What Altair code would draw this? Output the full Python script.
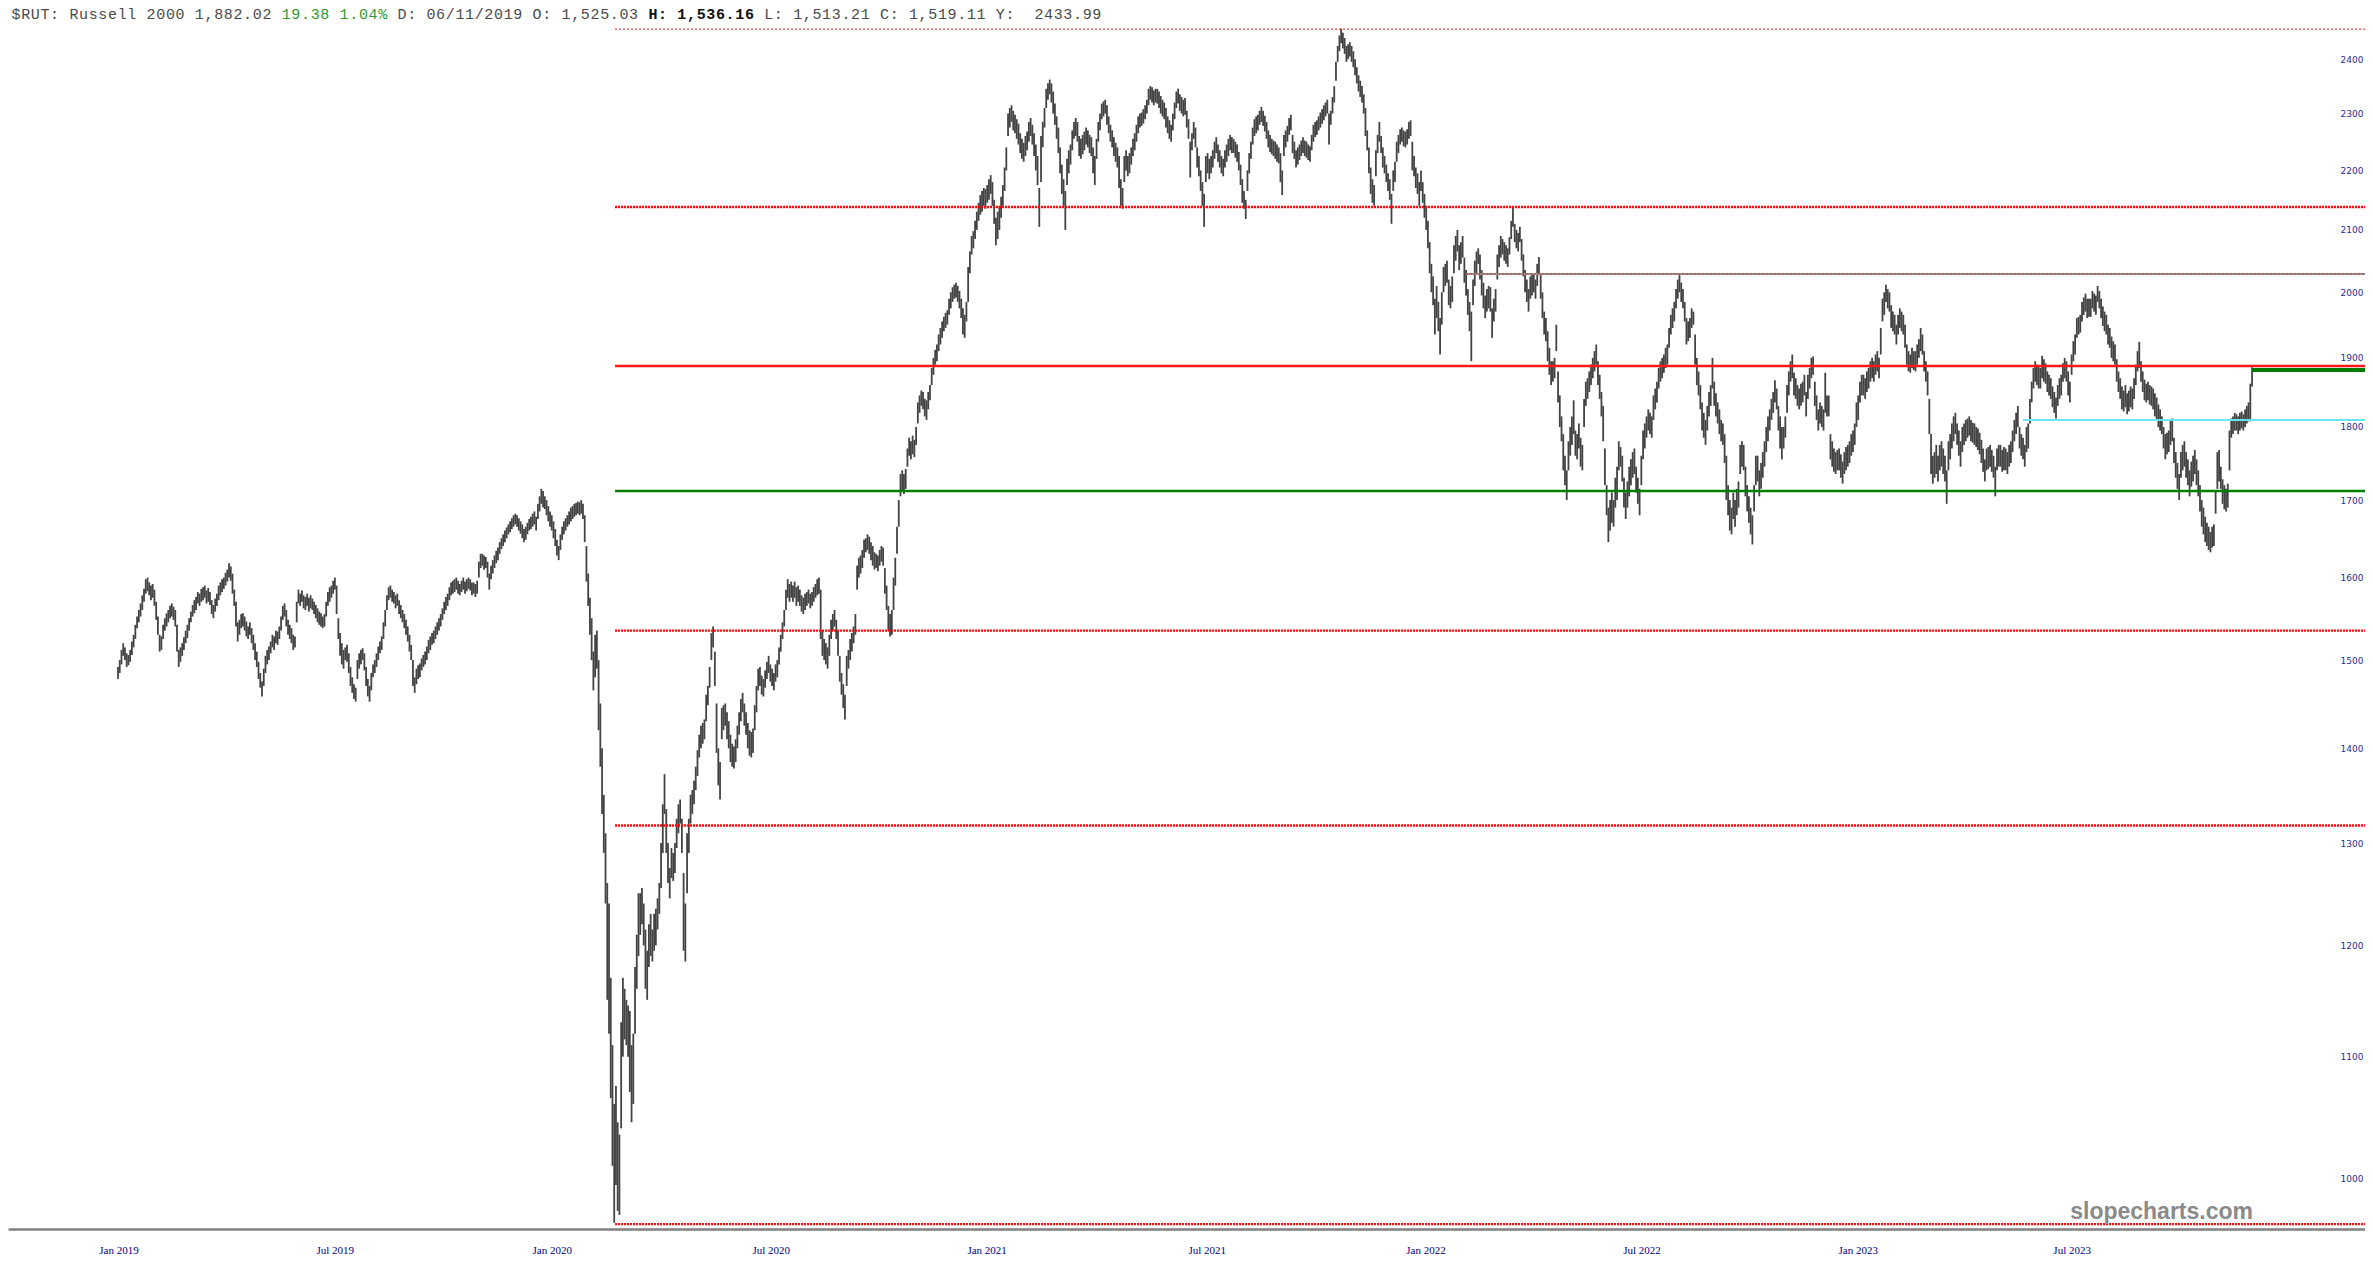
import altair as alt
import pandas as pd

# ---------------- daily bars (low / high) ----------------
lo_2019 = [1478,1485,1495,1505,1500,1492,1494,1498,1506,1515,
1525,1538,1545,1552,1560,1570,1580,1583,1578,1572,
1575,1565,1548,1530,1510,1512,1525,1535,1540,1545,
1550,1552,1548,1540,1510,1492,1498,1505,1512,1520,
1526,1535,1545,1552,1556,1560,1568,1565,1570,1572,
1575,1568,1570,1566,1555,1550,1558,1565,1572,1578,
1582,1586,1590,1595,1600,1596,1580,1565,1540,1522,
1530,1538,1540,1535,1528,1525,1530,1520,1512,1500,
1492,1478,1468,1458,1470,1485,1495,1500,1508,1515,
1512,1520,1518,1525,1535,1548,1552,1540,1530,1525,
1520,1512,1515,1545,1568,1565,1570,1562,1560,1565,
1558,1562,1560,1555,1550,1545,1542,1540,1538,1540,
1552,1565,1570,1575,1580,1585,1555,1525,1505,1495,
1490,1500,1498,1485,1470,1462,1455,1452,1478,1490,
1495,1500,1488,1470,1458,1452,1465,1480,1485,1492,
1500,1508,1512,1525,1540,1560,1572,1575,1570,1568,
1562,1565,1555,1550,1545,1538,1530,1522,1510,1500,
1470,1462,1472,1478,1480,1488,1492,1495,1500,1508,
1512,1518,1520,1525,1530,1535,1540,1548,1555,1560,
1565,1572,1578,1580,1582,1585,1580,1578,1582,1585,
1580,1583,1586,1584,1578,1580,1576,1580,1600,1612,
1615,1610,1612,1600,1585,1598,1605,1612,1618,1622,
1630,1636,1640,1645,1650,1655,1658,1662,1665,1668,
1665,1660,1656,1650,1645,1648,1655,1660,1662]
hi_2019 = [1492,1500,1512,1520,1515,1508,1506,1512,1522,1530,
1542,1552,1560,1568,1578,1586,1598,1600,1594,1590,
1592,1585,1570,1552,1530,1528,1542,1550,1556,1560,
1565,1568,1564,1560,1542,1512,1515,1520,1527,1535,
1542,1550,1558,1566,1572,1576,1582,1580,1586,1588,
1590,1584,1587,1582,1572,1566,1574,1580,1590,1594,
1598,1600,1606,1610,1618,1614,1605,1585,1570,1545,
1548,1555,1556,1552,1546,1540,1545,1538,1530,1520,
1510,1498,1485,1475,1490,1505,1512,1516,1522,1530,
1528,1535,1534,1540,1552,1565,1568,1560,1548,1542,
1538,1530,1528,1570,1585,1580,1584,1578,1576,1580,
1575,1578,1574,1570,1566,1562,1558,1556,1552,1555,
1570,1582,1588,1590,1596,1600,1590,1550,1532,1520,
1512,1515,1518,1508,1492,1480,1472,1468,1500,1508,
1512,1514,1508,1492,1478,1470,1485,1495,1500,1508,
1516,1522,1528,1545,1560,1578,1588,1590,1585,1582,
1578,1580,1572,1566,1560,1555,1548,1540,1530,1518,
1500,1480,1490,1494,1496,1502,1506,1510,1516,1524,
1528,1532,1535,1540,1545,1550,1555,1562,1570,1576,
1580,1588,1594,1596,1598,1600,1596,1592,1596,1600,
1595,1598,1600,1598,1594,1594,1592,1596,1620,1630,
1630,1628,1626,1620,1605,1615,1622,1628,1634,1638,
1645,1650,1655,1660,1664,1668,1672,1676,1680,1682,
1680,1676,1672,1668,1662,1665,1670,1675,1678]

lo_2020 = [1665,1668,1660,1675,1685,1695,1690,1688,1680,1672,
1665,1660,1650,1640,1628,1622,1635,1648,1655,1660,
1665,1668,1672,1675,1678,1680,1682,1680,1682,1675,
1645,1595,1565,1530,1500,1465,1480,1490,1420,1380,
1330,1290,1240,1150,1120,1065,1010,966,995,975,
972,1040,1100,1115,1110,1100,1070,1045,1060,1120,
1160,1190,1210,1220,1200,1160,1150,1180,1190,1185,
1195,1200,1215,1230,1255,1290,1330,1290,1260,1245,
1265,1262,1270,1295,1310,1320,1290,1195,1185,1250,
1290,1320,1330,1340,1355,1370,1390,1400,1405,1410,
1430,1448,1468,1500,1515,1470,1395,1360,1345,1410,
1420,1425,1410,1400,1385,1380,1378,1385,1400,1415,
1430,1440,1425,1415,1400,1392,1390,1395,1420,1440,
1465,1470,1460,1458,1468,1478,1485,1475,1470,1465,
1475,1480,1495,1510,1525,1540,1560,1575,1570,1575,
1570,1575,1565,1570,1565,1558,1555,1560,1565,1568,
1562,1565,1570,1575,1578,1580,1525,1505,1500,1495,
1490,1505,1525,1535,1540,1525,1505,1475,1460,1445,
1432,1470,1490,1500,1510,1520,1530,1585,1600,1605,
1612,1625,1632,1635,1630,1622,1615,1610,1612,1608,
1615,1620,1615,1580,1560,1535,1528,1530,1560,1590,
1630,1665,1705,1712,1708,1715,1745,1760,1755,1762,
1758,1775,1805,1820,1830,1825,1815,1810,1825,1838,
1860,1875,1890,1895,1910,1920,1930,1940,1945,1950,
1965,1975,1985,1990,1992,1985,1975,1960,1935,1930,1955]
hi_2020 = [1682,1685,1678,1695,1705,1715,1712,1705,1700,1692,
1685,1680,1672,1662,1648,1640,1655,1665,1672,1676,
1680,1685,1690,1692,1695,1696,1698,1697,1700,1695,
1680,1640,1605,1575,1550,1510,1530,1535,1500,1450,
1400,1350,1310,1260,1240,1170,1110,1060,1075,1045,
1035,1130,1170,1160,1150,1145,1140,1110,1120,1180,
1210,1250,1250,1255,1240,1215,1195,1220,1230,1215,
1230,1235,1245,1260,1300,1340,1372,1335,1300,1275,
1295,1290,1300,1325,1340,1345,1325,1270,1240,1310,
1325,1350,1355,1365,1380,1398,1415,1425,1428,1432,
1460,1470,1492,1532,1540,1510,1450,1400,1385,1445,
1448,1450,1440,1430,1415,1405,1402,1410,1425,1440,
1455,1462,1450,1440,1428,1420,1418,1422,1448,1470,
1490,1492,1482,1478,1488,1498,1505,1495,1490,1485,
1495,1500,1515,1530,1545,1560,1585,1598,1592,1595,
1590,1595,1588,1590,1585,1578,1575,1580,1582,1585,
1580,1582,1588,1592,1598,1600,1585,1535,1525,1520,
1515,1530,1548,1555,1560,1548,1535,1505,1485,1472,
1460,1505,1512,1525,1532,1540,1555,1615,1625,1628,
1635,1648,1650,1655,1652,1645,1640,1632,1630,1628,
1635,1640,1638,1612,1590,1565,1555,1560,1600,1625,
1665,1700,1735,1740,1735,1742,1770,1785,1780,1788,
1782,1800,1835,1845,1852,1850,1840,1838,1850,1860,
1885,1900,1912,1920,1935,1945,1955,1962,1968,1972,
1990,2000,2008,2012,2015,2010,2002,1990,1975,1965,1985]

lo_2021 = [1985,2030,2060,2070,2085,2100,2115,2125,2130,2140,
2135,2145,2150,2160,2140,2110,2075,2085,2100,2120,
2140,2165,2200,2260,2275,2285,2270,2265,2255,2245,
2230,2220,2215,2225,2235,2250,2260,2245,2225,2200,
2175,2105,2180,2240,2275,2310,2325,2335,2320,2300,
2280,2255,2230,2195,2160,2140,2100,2175,2195,2210,
2235,2255,2260,2250,2225,2220,2228,2235,2245,2240,
2230,2225,2195,2175,2220,2250,2270,2290,2295,2300,
2280,2265,2250,2240,2225,2215,2205,2170,2140,2135,
2180,2200,2190,2195,2210,2225,2235,2250,2265,2275,
2278,2282,2290,2300,2315,2325,2320,2315,2320,2318,
2310,2300,2295,2290,2275,2265,2255,2250,2270,2290,
2310,2318,2305,2300,2295,2298,2275,2255,2188,2235,
2255,2240,2205,2190,2165,2140,2105,2180,2195,2185,
2195,2205,2220,2230,2215,2205,2195,2190,2205,2215,
2225,2235,2230,2230,2222,2215,2200,2175,2145,2135,
2118,2165,2195,2220,2245,2260,2265,2270,2280,2285,
2278,2268,2255,2240,2232,2228,2225,2220,2215,2212,
2180,2158,2225,2240,2250,2262,2270,2230,2220,2205,
2210,2218,2225,2230,2225,2222,2218,2215,2235,2250,
2258,2262,2270,2275,2282,2288,2295,2300,2245,2280,
2300,2320,2360,2395,2415,2430,2420,2410,2395,2400,
2405,2395,2385,2370,2355,2340,2330,2320,2300,2260,
2235,2195,2160,2145,2140,2190,2230,2250,2230,2205,
2195,2180,2165,2150,2110,2165,2180,2215,2230,2245,
2250,2242,2240]
hi_2021 = [2040,2065,2090,2098,2115,2130,2145,2158,2165,2170,
2168,2175,2185,2192,2180,2150,2120,2130,2140,2155,
2175,2205,2240,2300,2310,2315,2305,2298,2290,2282,
2265,2255,2248,2260,2268,2285,2292,2280,2265,2245,
2225,2170,2260,2285,2310,2345,2355,2362,2355,2340,
2318,2295,2275,2240,2210,2185,2165,2220,2235,2245,
2270,2285,2292,2285,2260,2255,2262,2268,2275,2270,
2262,2258,2240,2225,2255,2285,2300,2318,2322,2325,
2315,2295,2280,2270,2258,2248,2240,2225,2185,2170,
2225,2235,2225,2230,2240,2255,2265,2280,2295,2300,
2302,2308,2315,2325,2345,2350,2348,2342,2345,2345,
2340,2332,2325,2320,2310,2295,2288,2280,2300,2320,
2340,2345,2335,2330,2325,2328,2305,2290,2250,2265,
2285,2275,2240,2225,2200,2180,2160,2225,2230,2220,
2225,2235,2250,2258,2245,2235,2225,2220,2235,2245,
2255,2262,2258,2255,2250,2245,2232,2210,2185,2165,
2150,2200,2230,2250,2275,2290,2295,2298,2305,2312,
2305,2296,2285,2270,2262,2255,2252,2250,2245,2240,
2230,2200,2262,2270,2278,2292,2298,2262,2250,2235,
2240,2245,2252,2258,2252,2250,2245,2242,2262,2280,
2285,2288,2295,2302,2308,2315,2320,2325,2300,2305,
2330,2350,2395,2425,2445,2458,2450,2440,2425,2428,
2432,2425,2415,2400,2385,2370,2360,2350,2335,2310,
2270,2240,2205,2185,2175,2235,2262,2285,2260,2240,
2225,2210,2195,2185,2160,2200,2215,2250,2262,2272,
2275,2270,2268]

lo_2022 = [2245,2255,2260,2200,2190,2170,2160,2140,2165,2145,
2120,2100,2070,2030,2000,1980,1935,1960,1940,1905,
1950,2000,2010,2015,1980,1975,1985,2030,2050,2065,
2035,2045,2055,2015,1995,1965,1940,1895,1980,2010,
2030,2045,2020,1995,1975,1960,1970,1975,1970,1930,
1955,1970,2020,2040,2055,2060,2050,2045,2040,2060,
2085,2105,2080,2070,2065,2080,2050,2025,2000,1985,
1970,1990,1995,2000,1990,2010,2030,1990,1960,1935,
1925,1895,1875,1860,1865,1870,1910,1835,1800,1780,
1740,1720,1700,1740,1760,1775,1790,1760,1755,1770,
1745,1740,1800,1830,1840,1850,1860,1870,1880,1890,
1860,1840,1815,1780,1720,1680,1645,1660,1670,1665,
1690,1700,1740,1745,1725,1690,1675,1690,1705,1720,
1730,1735,1710,1695,1680,1720,1755,1770,1785,1795,
1790,1785,1810,1825,1835,1855,1865,1870,1878,1885,
1890,1915,1935,1945,1955,1975,1990,2000,1985,1975,
1955,1920,1925,1930,1945,1950,1890,1860,1845,1825,
1795,1785,1775,1795,1815,1830,1855,1830,1815,1805,
1790,1780,1775,1750,1700,1680,1660,1655,1675,1665,
1680,1690,1735,1745,1740,1705,1685,1670,1655,1642,
1685,1720,1725,1705,1715,1730,1745,1765,1780,1795,
1810,1820,1835,1825,1795,1770,1755,1770,1785,1820,
1845,1865,1870,1845,1840,1830,1825,1830,1835,1845,
1815,1840,1855,1870,1875,1830,1810,1795,1805,1800,
1795,1820,1815,1815,1755,1745,1738,1735,1740]
hi_2022 = [2272,2285,2288,2250,2225,2205,2195,2180,2200,2180,
2160,2140,2115,2080,2045,2025,1990,2010,1985,1960,
2000,2040,2045,2050,2020,2010,2025,2075,2090,2100,
2075,2080,2090,2055,2035,2005,1985,1970,2020,2050,
2065,2070,2060,2035,2015,1995,2005,2010,2008,1975,
1990,2005,2060,2075,2090,2085,2080,2075,2070,2088,
2115,2137,2110,2100,2095,2105,2085,2060,2035,2020,
2005,2025,2030,2030,2020,2045,2056,2030,2000,1970,
1960,1940,1915,1895,1895,1900,1950,1880,1845,1815,
1790,1760,1740,1780,1800,1815,1838,1795,1790,1805,
1785,1775,1840,1865,1870,1880,1890,1900,1910,1920,
1895,1875,1850,1830,1770,1720,1690,1700,1710,1700,
1730,1745,1780,1772,1760,1730,1710,1725,1745,1755,
1765,1770,1745,1730,1715,1760,1795,1805,1815,1825,
1820,1815,1845,1855,1865,1885,1895,1900,1905,1915,
1920,1945,1965,1975,1985,2005,2020,2030,2015,2005,
1985,1960,1955,1960,1975,1970,1935,1900,1880,1860,
1835,1820,1810,1830,1850,1860,1900,1865,1848,1835,
1825,1810,1805,1790,1760,1720,1700,1690,1710,1700,
1715,1725,1775,1780,1775,1745,1720,1705,1690,1680,
1720,1760,1760,1740,1750,1765,1780,1800,1815,1825,
1840,1850,1867,1855,1830,1815,1800,1800,1815,1860,
1880,1895,1905,1878,1870,1860,1855,1862,1865,1875,
1850,1875,1885,1900,1902,1865,1845,1825,1835,1830,
1825,1878,1845,1845,1790,1780,1770,1765,1768]

lo_2023 = [1740,1730,1722,1735,1740,1745,1750,1760,1765,1775,
1800,1810,1835,1845,1845,1840,1850,1855,1865,1870,
1865,1875,1880,1870,1905,1955,1965,1985,1975,1970,
1945,1940,1935,1920,1935,1945,1940,1935,1915,1890,
1880,1878,1885,1882,1880,1890,1900,1910,1905,1880,
1865,1845,1790,1735,1722,1730,1735,1725,1740,1745,
1735,1725,1695,1740,1755,1770,1780,1790,1775,1760,
1745,1765,1775,1780,1785,1788,1780,1778,1775,1772,
1768,1762,1750,1738,1725,1740,1742,1745,1738,1730,
1705,1740,1745,1745,1738,1740,1740,1735,1745,1750,
1765,1780,1790,1800,1770,1760,1755,1745,1765,1770,
1805,1835,1855,1865,1860,1855,1855,1870,1865,1862,
1850,1845,1840,1828,1820,1812,1830,1840,1845,1865,
1870,1865,1845,1835,1875,1895,1905,1930,1935,1938,
1955,1965,1970,1960,1962,1962,1975,1970,1965,1985,
1975,1960,1948,1940,1935,1920,1915,1900,1895,1890,
1865,1850,1840,1825,1822,1828,1818,1822,1828,1825,
1840,1860,1880,1885,1865,1850,1838,1835,1838,1832,
1830,1825,1815,1810,1800,1795,1790,1770,1755,1762,
1765,1775,1780,1750,1730,1715,1700,1730,1740,1745,
1730,1720,1705,1718,1725,1735,1720,1705,1685,1665,
1655,1645,1640,1635,1632,1638,1640,1682,1715,1725,
1715,1695,1688,1685,1690,1740,1785,1790,1795,1795,
1790,1795,1798,1795,1800,1805,1808,1808,1858]
hi_2023 = [1770,1762,1752,1765,1772,1775,1780,1790,1795,1805,
1835,1845,1865,1875,1875,1870,1880,1885,1895,1900,
1895,1905,1910,1900,1945,1990,2000,2012,2005,2000,
1980,1970,1965,1950,1965,1975,1970,1965,1950,1920,
1910,1905,1915,1910,1910,1920,1928,1945,1935,1910,
1895,1880,1840,1790,1760,1765,1775,1760,1775,1780,
1770,1760,1740,1780,1790,1805,1815,1820,1805,1795,
1780,1800,1805,1810,1812,1815,1810,1806,1805,1800,
1798,1792,1782,1770,1755,1770,1772,1775,1768,1760,
1745,1770,1775,1775,1768,1772,1770,1765,1775,1780,
1795,1810,1820,1830,1800,1790,1785,1775,1800,1805,
1840,1865,1885,1895,1890,1888,1885,1903,1898,1892,
1880,1875,1870,1858,1850,1842,1860,1870,1875,1892,
1900,1895,1880,1865,1905,1925,1935,1960,1962,1965,
1985,1992,1998,1990,1990,1990,2002,1998,1995,2010,
2002,1990,1978,1970,1965,1950,1945,1932,1925,1920,
1898,1880,1870,1858,1852,1860,1848,1852,1858,1855,
1870,1890,1910,1924,1895,1880,1868,1862,1865,1860,
1858,1855,1848,1842,1832,1825,1815,1800,1790,1792,
1795,1810,1812,1785,1765,1750,1735,1765,1775,1780,
1765,1755,1740,1752,1760,1768,1755,1740,1720,1700,
1690,1678,1670,1665,1658,1665,1668,1712,1765,1768,
1745,1728,1720,1715,1722,1795,1812,1815,1820,1818,
1815,1820,1822,1818,1825,1830,1835,1862,1886]

# ---------------- axis tick labels ----------------
x_tick_idx = [-11.1, 114.1, 238.6, 365.4, 489.3, 616.7, 742.2, 867.3, 991.4, 1115.2]
x_tick_lab = ["Jan 2019", "Jul 2019", "Jan 2020", "Jul 2020", "Jan 2021",
              "Jul 2021", "Jan 2022", "Jul 2022", "Jan 2023", "Jul 2023"]
y_ticks = [1000, 1100, 1200, 1300, 1400, 1500, 1600, 1700, 1800, 1900,
           2000, 2100, 2200, 2300, 2400]

# ---------------- horizontal levels ----------------
red_dot_thin = [2457]
red_dot_thick = [2138, 1535, 1318, 965]
gray_level = [2029]
red_solid = [1888]
green_solid = [1712]
cyan_level = [1810]
last_price = [1882.02]
start_low = 286.5      # bar of the March 2020 low
start_gray = 777
start_cyan = 1098
start_last = 1230

header = "$RUT: Russell 2000 1,882.02 19.38 1.04% D: 06/11/2019 O: 1,525.03 H: 1,536.16 L: 1,513.21 C: 1,519.11 Y:  2433.99"
green_part = "19.38 1.04%"
bold_part = "H: 1,536.16"

# ---------------- build tables ----------------
lo = lo_2019 + lo_2020 + lo_2021 + lo_2022 + lo_2023
hi = hi_2019 + hi_2020 + hi_2021 + hi_2022 + hi_2023
n = min(len(lo), len(hi))
bars = pd.DataFrame({"idx": list(range(n)), "lo": lo[:n], "hi": hi[:n]})

W, H = 2357, 1221
XDOM = [-63.4, 1295.1]
YDOM = [961.3, 2498.0]
xs = alt.Scale(domain=XDOM, nice=False, zero=False)
ys = alt.Scale(type="log", domain=YDOM, nice=False)

label_expr = ("[" + ",".join("'" + s + "'" for s in x_tick_lab) + "][indexof(["
              + ",".join(str(v) for v in x_tick_idx) + "], datum.value)]")

bar_layer = alt.Chart(bars).mark_rule(color="#434343", strokeWidth=1.8).encode(
    x=alt.X("idx:Q", scale=xs, title=None,
            axis=alt.Axis(values=x_tick_idx, labelExpr=label_expr, labelAlign="left",
                          labelFont="Liberation Serif", labelFontSize=11,
                          labelColor="#00008b", labelPadding=15, ticks=False,
                          tickSize=0, grid=False, domainColor="#808080",
                          domainWidth=2.5, labelOverlap=False, labelFlush=False,
                          labelBound=False, title=None)),
    y=alt.Y("lo:Q", scale=ys, title=None,
            axis=alt.Axis(values=y_ticks, orient="right", format="d",
                          labelAlign="right", labelBaseline="middle",
                          labelPadding=-2, ticks=False, tickSize=0, domain=False,
                          grid=False, labelFont="DejaVu Sans", labelFontSize=9,
                          labelColor="#2b2b95", labelOverlap=False, labelFlush=False,
                          title=None)),
    y2="hi:Q",
)


def level(prices, start, color, width, dash=None):
    df = pd.DataFrame({"price": prices, "start": [start] * len(prices)})
    kw = dict(color=color, strokeWidth=width)
    if dash:
        kw["strokeDash"] = dash
    return alt.Chart(df).mark_rule(**kw).encode(
        x=alt.X("start:Q", scale=xs, title=None),
        x2=alt.value(W),
        y=alt.Y("price:Q", scale=ys, title=None),
    )


levels = [
    level(gray_level, start_gray, "#8f8f8f", 2),
    level(gray_level, start_gray, "#e03030", 1, [2, 2]),
    level(red_dot_thin, start_low, "#ff0000", 1, [2, 2]),
    level(red_dot_thick, start_low, "#ff0000", 2.4, [2, 1]),
    level(red_solid, start_low, "#ff1a1a", 2.5),
    level(green_solid, start_low, "#008000", 2.5),
    level(cyan_level, start_cyan, "#66e6ee", 2),
    level(last_price, start_last, "#007a00", 4),
]

# header: one character per column, as in a monospaced ticker line
g0 = header.index(green_part); g1 = g0 + len(green_part)
b0 = header.index(bold_part); b1 = b0 + len(bold_part)
rows = []
for k, ch in enumerate(header):
    if ch == " ":
        continue
    kind = "green" if g0 <= k < g1 else ("bold" if b0 <= k < b1 else "plain")
    rows.append({"ch": ch, "px": 3.5 + k * 9.65, "kind": kind})
hdr = pd.DataFrame(rows)


def hdr_layer(kind, color, weight):
    return alt.Chart(hdr[hdr["kind"] == kind]).mark_text(
        align="left", baseline="alphabetic", font="Liberation Mono", fontSize=15,
        fontWeight=weight, color=color,
    ).encode(x=alt.X("px:Q", scale=None, axis=None), y=alt.value(10.5), text="ch:N")


header_layers = [
    hdr_layer("plain", "#4a4a4a", "normal"),
    hdr_layer("green", "#2e9a2e", "normal"),
    hdr_layer("bold", "#111111", "bold"),
]

watermark = alt.Chart(pd.DataFrame({"t": ["slopecharts.com"]})).mark_text(
    align="right", baseline="alphabetic", font="Liberation Sans", fontSize=23,
    fontWeight="bold", color="#8a8a8a",
).encode(x=alt.value(2245), y=alt.value(1211), text="t:N")

chart = alt.layer(bar_layer, *levels, *header_layers, watermark).properties(
    width=W, height=H, background="white",
    autosize=alt.AutoSizeParams(type="none"),
    padding={"top": 0, "left": 0, "right": 0, "bottom": 42},
).configure_view(strokeWidth=0)

chart.save("out.html", embed_options={"renderer": "svg", "actions": False})
